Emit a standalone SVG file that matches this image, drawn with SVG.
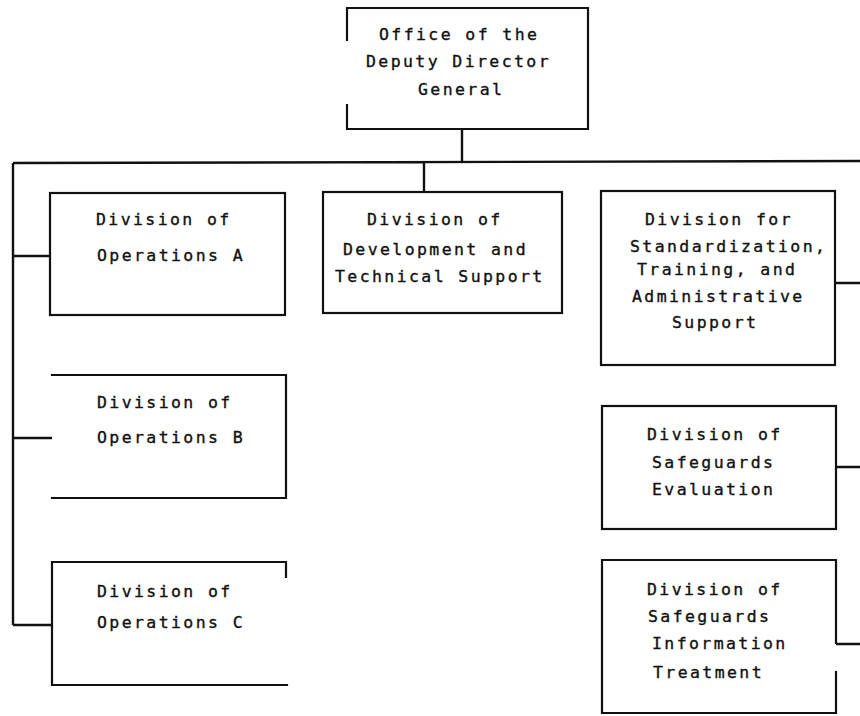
<svg xmlns="http://www.w3.org/2000/svg" width="860" height="716" viewBox="0 0 860 716">
<style>
.b{fill:none;stroke:#111;stroke-width:2.2;stroke-linecap:square}
.c{fill:none;stroke:#111;stroke-width:2.4}
text{font-family:"DejaVu Sans Mono","Liberation Mono",monospace;font-size:16.5px;letter-spacing:2.4px;fill:#111;stroke:#111;stroke-width:0.35}
</style>
<rect width="860" height="716" fill="#fff"/>
<g id="connectors">
<path class="c" d="M462 129V162M13 163L860 161M424 162V192M13 163V625M13 256H50M13 438H52M13 625H52M835 283H860M836 467H860M836 644H860"/>
</g>
<g id="n-office">
<path class="b" d="M347 40V8H588V129H347V105"/>
<text x="379" y="40">Office of the</text>
<text x="366" y="67">Deputy Director</text>
<text x="418" y="95">General</text>
</g>
<g id="n-opsA">
<rect class="b" x="50" y="193" width="235" height="122"/>
<text x="96" y="225">Division of</text>
<text x="97" y="261">Operations A</text>
</g>
<g id="n-dts">
<rect class="b" x="323" y="192" width="239" height="121"/>
<text x="367" y="225">Division of</text>
<text x="343" y="255">Development and</text>
<text x="335" y="282">Technical Support</text>
</g>
<g id="n-sta">
<rect class="b" x="601" y="191" width="234" height="174"/>
<text x="645" y="225">Division for</text>
<text x="630" y="252">Standardization,</text>
<text x="637" y="275">Training, and</text>
<text x="632" y="302">Administrative</text>
<text x="672" y="328">Support</text>
</g>
<g id="n-opsB">
<path class="b" d="M52 375H286V498H52"/>
<text x="97" y="408">Division of</text>
<text x="97" y="443">Operations B</text>
</g>
<g id="n-opsC">
<path class="b" d="M286 577V562H52V685H287"/>
<text x="97" y="597">Division of</text>
<text x="97" y="628">Operations C</text>
</g>
<g id="n-se">
<rect class="b" x="602" y="406" width="234" height="123"/>
<text x="647" y="440">Division of</text>
<text x="652" y="468">Safeguards</text>
<text x="652" y="495">Evaluation</text>
</g>
<g id="n-sit">
<path class="b" d="M836 643V560H602V713H836V672"/>
<text x="647" y="595">Division of</text>
<text x="648" y="622">Safeguards</text>
<text x="652" y="649">Information</text>
<text x="653" y="678">Treatment</text>
</g>
</svg>
